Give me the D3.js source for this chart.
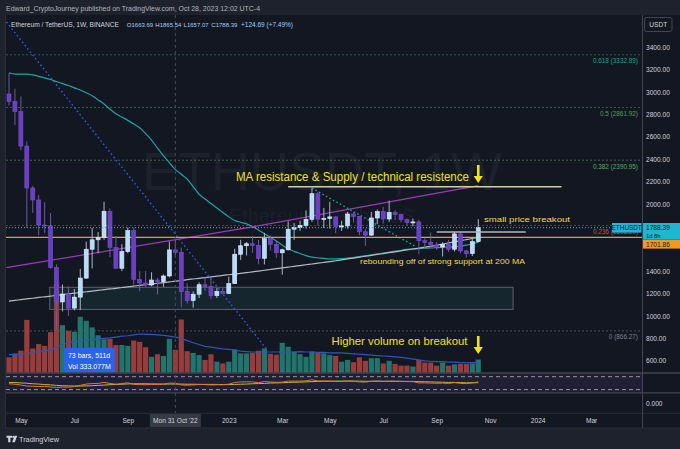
<!DOCTYPE html>
<html><head><meta charset="utf-8">
<script src="https://cdn.jsdelivr.net/npm/d3@7"></script>
<style>
html,body{margin:0;padding:0;background:#1e222d;}
svg{display:block;}
text{font-family:"Liberation Sans",Arial,sans-serif;}
</style></head><body>
<svg id="c" width="680" height="449"></svg>
<script>
// ---------------- DATA ----------------
const weeks = d3.utcMonday.range(new Date(Date.UTC(2022,3,18)), new Date(Date.UTC(2023,9,24)));
const opens = [2983,2916,2826,2517,2143,2036,1812,1805,1432,1125, 1196,1070,1168,1338,1596,1680,1700,1935,1613,1426,
 1575,1762,1327,1294,1276,1321,1306,1357,1590,1568, 1217,1137,1194,1279,1263,1181,1219,1200,1288,1551,
 1627,1645,1630,1515,1690,1640,1564,1591,1775,1790, 1808,1863,2092,1865,1870,1885,1800,1804,1911,1890,
 1752,1722,1875,1932,1866,1923,1905,1860,1835,1840, 1672,1657,1634,1616,1640,1596,1733,1581,1557,1663.69];
const highs = [3170,3030,2960,2560,2160,2080,2016,1920,1460,1280, 1262,1240,1420,1665,1785,1750,2020,1960,1714,1640,
 1790,1790,1400,1400,1390,1340,1370,1665,1680,1610, 1290,1220,1300,1345,1350,1250,1250,1350,1600,1680,
 1660,1715,1680,1742,1720,1680,1600,1845,1830,1850, 1943,2141,2110,1965,2020,1890,1850,1930,1925,1890,
 1780,1930,1950,1975,2030,1945,1915,1870,1870,1858, 1700,1745,1660,1660,1680,1750,1750,1590,1690,1865.54];
const lows = [2880,2705,2480,1790,1920,1720,1742,1420,880,1040, 1000,1050,1053,1330,1425,1560,1680,1525,1422,1400,
 1560,1280,1220,1260,1265,1190,1260,1345,1540,1075, 1110,1073,1160,1225,1150,1160,1190,1195,1285,1500,
 1540,1565,1460,1460,1585,1520,1368,1585,1680,1760, 1780,1840,1807,1785,1780,1740,1760,1780,1835,1720,
 1626,1715,1820,1825,1840,1855,1835,1808,1800,1550, 1600,1610,1590,1530,1570,1575,1560,1521,1535,1657.07];
const closes = [2916,2826,2517,2143,2036,1812,1805,1432,1125,1196, 1070,1168,1338,1596,1680,1700,1935,1613,1426,1575,
 1762,1327,1294,1276,1321,1306,1357,1590,1568,1217, 1137,1194,1279,1263,1181,1219,1200,1288,1551,1627,
 1645,1630,1515,1690,1640,1564,1591,1775,1790,1808, 1863,2092,1865,1870,1885,1800,1804,1911,1890,1752,
 1722,1875,1932,1866,1923,1905,1860,1835,1840,1672, 1657,1634,1616,1640,1596,1733,1581,1557,1664,1788.39];
const volumes = [3.5,4.4,5.0,12.0,5.5,6.5,6.1,9.2,20.2,10.8, 9.5,9.3,12.7,11.8,10.3,8.5,7.6,7.7,6.3,6.3,
 6.1,7.3,7.0,5.8,3.6,4.2,3.8,7.7,5.2,12.1, 4.9,4.5,4.0,2.9,4.2,2.5,2.1,2.5,5.3,4.4,
 4.4,4.5,5.0,5.5,4.3,4.1,6.8,5.9,4.8,4.2, 3.6,4.8,4.5,4.4,4.0,3.8,2.5,2.9,2.4,3.5,
 2.7,3.3,3.3,2.1,2.7,2.0,1.6,1.6,1.4,2.9, 2.3,2.3,1.6,2.3,1.6,1.9,2.0,2.0,2.1,3.0];
const volMA = [4.1,4.1,4.2,4.3,4.6,4.8,5.0,5.2,5.8,6.4, 6.8,7.0,7.2,7.4,7.5,7.7,7.8,7.9,8.1,8.3,
 8.4,8.6,8.8,8.7,8.7,8.6,8.5,8.3,8.1,7.8, 7.3,6.8,6.4,6.0,5.8,5.6,5.4,5.3,5.1,4.9,
 4.8,4.7,4.7,4.7,4.7,4.7,4.7,4.7,4.7,4.8, 4.7,4.7,4.6,4.6,4.5,4.5,4.5,4.4,4.3,4.2,
 4.1,4.0,3.9,3.8,3.7,3.6,3.5,3.3,3.1,2.9, 2.7,2.6,2.5,2.5,2.4,2.4,2.3,2.3,2.3,2.3];
const ma50 = [3173,3161,3161,3161,3153,3140,3127,3112,3094,3076, 3059,3038,3018,2994,2967,2930,2894,2846,2807,2777,
 2747,2715,2681,2629,2571,2500,2433,2369,2309,2266, 2222,2156,2087,2045,2005,1964,1925,1885,1853,1837,
 1822,1798,1767,1735,1703,1669,1634,1600,1577,1558, 1539,1525,1520,1514,1509,1510,1512,1517,1522,1530,
 1538,1546,1554,1562,1570,1579,1587,1594,1599,1602, 1605,1607,1610,1613,1615,1619,1625,1632,1645,1660];
const ma200 = [1133,1139,1146,1152,1158,1165,1171,1177,1184,1190, 1197,1203,1209,1216,1222,1228,1235,1241,1247,1254,
 1260,1266,1273,1279,1285,1292,1298,1304,1311,1317, 1324,1330,1336,1343,1349,1355,1362,1368,1374,1380,
 1387,1394,1401,1408,1415,1422,1429,1436,1443,1450, 1457,1464,1471,1478,1485,1493,1501,1509,1517,1525,
 1533,1541,1549,1557,1565,1573,1582,1590,1598,1606, 1614,1622,1632,1642,1652,1662,1672,1682,1692,1702];
const osc = [42,39,34,28,27,25,26,22,19,22, 21,25,32,40,43,44,50,44,39,43, 48,38,37,36,38,37,39,46,45,35,
 33,35,38,37,35,36,36,39,50,53, 54,53,49,55,53,51,52,58,58,58, 60,66,59,59,59,56,56,59,58,53,
 52,57,59,56,58,57,56,55,55,47, 47,46,45,46,44,49,44,43,47,53];
const oscSignal = [50,49,47,45,42,40,37,35,32,30, 29,28,28,29,30,32,34,36,38,39, 41,42,42,42,41,41,40,40,40,40,
 39,39,38,38,38,38,37,37,38,39, 40,42,43,44,46,47,48,50,51,52, 53,55,56,57,57,58,58,58,58,58,
 57,57,57,57,57,57,57,56,56,55, 54,53,52,51,50,50,49,48,48,48];
const priceTicks = [3400,3200,3000,2800,2600,2400,2200,2000,1800,1600,1400,1200,1000,800,600];
const timeTickDates = ["2022-05-02","2022-07-04","2022-09-05","2023-01-02","2023-03-06","2023-05-01","2023-07-03","2023-09-04","2023-11-06","2024-01-01","2024-03-04"];
const timeTickLabels = ["May","Jul","Sep","2023","Mar","May","Jul","Sep","Nov","2024","Mar"];
const fibRatios = ["0.618","0.5","0.382","0.236","0"];
const fibPrices = [3332.89,2861.92,2390.95,1808.20,866.27];
const fibColors = ["#2a9d92","#4f9f55","#5fa862","#e0413f","#7d808a"];
const supportPrice = 1701.86;
const lastPrice = 1788.39;
const purpleLine = [["2022-04-15",1431],["2023-01-30",1796],["2023-10-23",2165]];
const blueDotLine = [["2022-04-15",3626],["2023-02-17",690]];
const tealDotLine = [["2023-04-10",2141],["2023-08-11",1616]];
const resistLine = [["2023-03-13",2155],["2024-01-29",2155]];
const breakoutLine = [["2023-09-04",1750],["2023-12-18",1750]];
const supportBox = [["2022-06-05",1256],["2023-12-03",1058]];
const crossDate = "2022-10-31";

// ---------------- SETUP ----------------
const svg = d3.select("#c");
const P = s => new Date(s + "T00:00:00Z");
const X = d3.scaleUtc().domain([weeks[0], weeks[52]]).range([9, 9 + 5.94*52]);
const Y = d3.scaleLinear().domain([600, 3400]).range([360.7, 47.3]);
const V = d3.scaleLinear().domain([0, 20]).range([372.7, 372.7 - 88]);
const O = d3.scaleLinear().domain([10, 80]).range([389, 377.5]);
const L = 6, R = 642, T = 15, MB = 373;

svg.append("rect").attr("width",680).attr("height",449).attr("fill","#1e222d");
svg.append("rect").attr("x",L).attr("y",T).attr("width",680-L).attr("height",428-T).attr("fill","#131722");

const defs = svg.append("defs");
defs.append("clipPath").attr("id","mainClip").append("rect").attr("x",L).attr("y",T).attr("width",R-L).attr("height",MB-T);
defs.append("clipPath").attr("id","oscClip").append("rect").attr("x",L).attr("y",374).attr("width",R-L).attr("height",18);

const main = svg.append("g").attr("clip-path","url(#mainClip)");

// watermark
main.append("text").attr("x",322).attr("y",190).attr("text-anchor","middle")
  .attr("font-family","Lato, 'Liberation Sans', sans-serif").attr("font-size",54)
  .attr("fill","rgba(255,255,255,0.045)").text("ETHUSDT, 1W");
main.append("text").attr("x",322).attr("y",223).attr("text-anchor","middle")
  .attr("font-family","Lato, 'Liberation Sans', sans-serif").attr("font-size",20)
  .attr("fill","rgba(255,255,255,0.045)").text("Ethereum / TetherUS");

// fib levels
fibPrices.forEach((p,k)=>{
  main.append("line").attr("x1",L).attr("x2",R).attr("y1",Y(p)).attr("y2",Y(p))
    .attr("stroke",fibColors[k]).attr("stroke-opacity",0.55).attr("stroke-dasharray","2,2").attr("stroke-width",1);
  main.append("text").attr("x",638).attr("y",Y(p)+8.6).attr("text-anchor","end")
    .attr("font-size",6.4).attr("fill",fibColors[k]).text(`${fibRatios[k]} (${p.toFixed(2)})`);
});

// support box
main.append("rect").attr("x",X(P(supportBox[0][0]))).attr("y",Y(supportBox[0][1]))
  .attr("width",X(P(supportBox[1][0]))-X(P(supportBox[0][0])))
  .attr("height",Y(supportBox[1][1])-Y(supportBox[0][1]))
  .attr("fill","rgba(38,120,120,0.16)").attr("stroke","#5d606b").attr("stroke-width",1);

// volume
const up = i => closes[i] >= opens[i];
main.append("g").selectAll("rect").data(weeks).join("rect")
  .attr("x",(d)=>X(d)-2.6).attr("width",5.2)
  .attr("y",(d,i)=>V(volumes[i])).attr("height",(d,i)=>V(0)-V(volumes[i]))
  .attr("fill",(d,i)=>up(i)?"#21756c":"#973d3e");
main.append("path").datum(weeks).attr("fill","none").attr("stroke","#2f55b8").attr("stroke-width",1.2)
  .attr("d", d3.line().x(d=>X(d)).y((d,i)=>V(volMA[i])));

// moving averages
main.append("path").datum(weeks).attr("fill","none").attr("stroke","#1ea4a4").attr("stroke-width",1.2)
  .attr("d", d3.line().x(d=>X(d)).y((d,i)=>Y(ma50[i])).curve(d3.curveMonotoneX));
main.append("path").datum(weeks).attr("fill","none").attr("stroke","#b7b9bf").attr("stroke-width",1.2)
  .attr("d", d3.line().x(d=>X(d)).y((d,i)=>Y(ma200[i])).curve(d3.curveMonotoneX));
const segLine = d3.line().x(d=>X(P(d[0]))).y(d=>Y(d[1]));
main.append("path").datum(purpleLine).attr("fill","none").attr("stroke","#9a3cb8").attr("stroke-width",1.2)
  .attr("d", d3.line().x(d=>X(P(d[0]))).y(d=>Y(d[1])).curve(d3.curveMonotoneX));
main.append("path").datum(blueDotLine).attr("fill","none").attr("stroke","#2c5fe6").attr("stroke-width",1.4)
  .attr("stroke-dasharray","1.6,2.6").attr("d", segLine);
main.append("path").datum(tealDotLine).attr("fill","none").attr("stroke","#22a195").attr("stroke-width",1.4)
  .attr("stroke-dasharray","1.6,2.4").attr("d", segLine);

// orange support
main.append("line").attr("x1",L).attr("x2",R).attr("y1",Y(supportPrice)).attr("y2",Y(supportPrice))
  .attr("stroke","#f39a1c").attr("stroke-width",1.4);

// candles
const cg = main.append("g");
cg.selectAll("line").data(weeks).join("line")
  .attr("x1",d=>X(d)).attr("x2",d=>X(d))
  .attr("y1",(d,i)=>Y(highs[i])).attr("y2",(d,i)=>Y(lows[i]))
  .attr("stroke",(d,i)=>up(i)?"#a9b7c6":"#6d5a9c").attr("stroke-width",1);
cg.selectAll("rect").data(weeks).join("rect")
  .attr("x",d=>X(d)-2).attr("width",4)
  .attr("y",(d,i)=>Y(Math.max(opens[i],closes[i])))
  .attr("height",(d,i)=>Math.max(1,Math.abs(Y(opens[i])-Y(closes[i]))))
  .attr("fill",(d,i)=>up(i)?"#b6dbfb":"#6a3fc3")
  .attr("stroke",(d,i)=>up(i)?"#e3f1ff":"#7b4fd0").attr("stroke-width",0.6);

// annotations
main.append("path").datum(resistLine).attr("stroke","#d2cda6").attr("stroke-width",1.5).attr("d",segLine);
main.append("path").datum(breakoutLine).attr("stroke","#b9b8ad").attr("stroke-width",1.5).attr("d",segLine);
const ann = (x,y,s,size,len,color)=>main.append("text").attr("x",x).attr("y",y)
  .attr("font-family","Lato, 'Liberation Sans', sans-serif").attr("font-size",size)
  .attr("textLength",len).attr("lengthAdjust","spacingAndGlyphs").attr("fill",color).text(s);
ann(236,181,"MA resistance & Supply / technical resistence",12.5,233,"#f2e21e");
ann(331.5,345,"Higher volume on breakout",11.5,136,"#f2e21e");
ann(484,222,"small price breakout",7.8,86,"#efdc4c");
ann(360,263.5,"rebounding off of strong support at 200 MA",7.6,165,"#efdc4c");
const arrow = (x,y0,y1)=>main.append("path")
  .attr("d",`M${x-1.3},${y0} L${x+1.3},${y0} L${x+1.3},${y1-7} L${x+4.6},${y1-7} L${x},${y1} L${x-4.6},${y1-7} L${x-1.3},${y1-7} Z`)
  .attr("fill","#f5e31a");
arrow(X(weeks[79]),165,183);
arrow(X(weeks[79]),336,354);

// current price line
main.append("line").attr("x1",L).attr("x2",R).attr("y1",Y(lastPrice)).attr("y2",Y(lastPrice))
  .attr("stroke","#1fb6d2").attr("stroke-width",1).attr("stroke-dasharray","1,2");

// measurement label
svg.append("rect").attr("x",X(weeks[9])+1.5).attr("y",347.7).attr("width",51).attr("height",25).attr("rx",2).attr("fill","#2a62e8");
svg.append("text").attr("x",X(weeks[9])+5.5).attr("y",357.5).attr("font-size",7).attr("fill","#ffffff").text("73 bars, 511d");
svg.append("text").attr("x",X(weeks[9])+5.5).attr("y",368.5).attr("font-size",7).attr("fill","#ffffff").text("Vol 333.077M");

// oscillator pane
const og = svg.append("g").attr("clip-path","url(#oscClip)");
og.append("rect").attr("x",L).attr("y",374).attr("width",R-L).attr("height",18).attr("fill","rgba(126,87,194,0.13)");
[376.7,389.6].forEach(y=>og.append("line").attr("x1",L).attr("x2",R).attr("y1",y).attr("y2",y)
  .attr("stroke","#a3a6af").attr("stroke-dasharray","4,3").attr("stroke-width",0.9));
og.append("path").datum(weeks).attr("fill","none").attr("stroke","#c8b43a").attr("stroke-width",1)
  .attr("d", d3.line().x(d=>X(d)).y((d,i)=>O(oscSignal[i])));
og.append("path").datum(weeks).attr("fill","none").attr("stroke","#e0782a").attr("stroke-width",1)
  .attr("d", d3.line().x(d=>X(d)).y((d,i)=>O(osc[i])));

// crosshair vertical
svg.append("line").attr("x1",X(P(crossDate))).attr("x2",X(P(crossDate))).attr("y1",T).attr("y2",413)
  .attr("stroke","#4a4e5a").attr("stroke-width",1).attr("stroke-dasharray","3,3");

// separators
[373,392.8].forEach(y=>svg.append("line").attr("x1",L).attr("x2",680).attr("y1",y).attr("y2",y).attr("stroke","#434651").attr("stroke-width",1.3));
svg.append("line").attr("x1",L).attr("x2",680).attr("y1",413.3).attr("y2",413.3).attr("stroke","#2a2e39");
svg.append("line").attr("x1",L).attr("x2",680).attr("y1",428).attr("y2",428).attr("stroke","#2a2e39");
svg.append("line").attr("x1",R+0.5).attr("x2",R+0.5).attr("y1",T).attr("y2",428).attr("stroke","#434651");
svg.append("line").attr("x1",L-0.5).attr("x2",L-0.5).attr("y1",T).attr("y2",428).attr("stroke","#2a2e39");

// right axis (labels hidden behind the price tags are skipped, as in the reference)
const visibleTicks = priceTicks.filter(p => Math.abs(Y(p) - Y(lastPrice)) > 13 && Math.abs(Y(p) - Y(supportPrice)) > 13);
const ya = svg.append("g").attr("transform",`translate(${R},0)`)
  .call(d3.axisRight(Y).tickValues(visibleTicks).tickFormat(d=>d.toFixed(2)).tickSize(0).tickPadding(4));
ya.select(".domain").remove();
ya.selectAll("text").attr("fill","#d1d4dc").attr("font-size",6.6).attr("font-family","'Liberation Sans',Arial,sans-serif");
const Z = d3.scaleLinear().domain([-1,1]).range([413,393]);
const za = svg.append("g").attr("transform",`translate(${R},0)`)
  .call(d3.axisRight(Z).tickValues([0]).tickFormat(d=>d.toFixed(3)).tickSize(0).tickPadding(4));
za.select(".domain").remove();
za.selectAll("text").attr("fill","#d1d4dc").attr("font-size",6.6).attr("font-family","'Liberation Sans',Arial,sans-serif");

// time axis
const xa = svg.append("g").attr("transform","translate(0,413)")
  .call(d3.axisBottom(X).tickValues(timeTickDates.map(P)).tickFormat((d,i)=>timeTickLabels[i]).tickSize(0).tickPadding(5.5));
xa.select(".domain").remove();
xa.selectAll("text").attr("fill","#d1d4dc").attr("font-size",6.6).attr("font-family","'Liberation Sans',Arial,sans-serif");
const cx = X(P(crossDate));
svg.append("rect").attr("x",cx-25.5).attr("y",414).attr("width",51).attr("height",13).attr("fill","#363a45");
svg.append("text").attr("x",cx).attr("y",423).attr("text-anchor","middle").attr("font-size",6.6).attr("fill","#d1d4dc").text("Mon 31 Oct '22");

// price labels
svg.append("rect").attr("x",612).attr("y",223).attr("width",29.5).attr("height",9.6).attr("fill","#1fb6d2");
svg.append("text").attr("x",626.7).attr("y",230.4).attr("text-anchor","middle").attr("font-size",6.4).attr("fill","#131722").text("ETHUSDT");
svg.append("rect").attr("x",643).attr("y",223).attr("width",37).attr("height",16.5).attr("fill","#1fb6d2");
svg.append("text").attr("x",646).attr("y",230.4).attr("font-size",6.6).attr("fill","#131722").text(lastPrice.toFixed(2));
svg.append("text").attr("x",646).attr("y",237.6).attr("font-size",5.8).attr("fill","#131722").text("1d 8h");
svg.append("rect").attr("x",643).attr("y",239.6).attr("width",37).attr("height",9).attr("fill","#f39a1c");
svg.append("text").attr("x",646).attr("y",246.6).attr("font-size",6.6).attr("fill","#131722").text(supportPrice.toFixed(2));

// USDT button
svg.append("rect").attr("x",644.5).attr("y",17.5).attr("width",27.5).attr("height",14).attr("rx",2)
  .attr("fill","#131722").attr("stroke","#434651");
svg.append("text").attr("x",658.2).attr("y",27).attr("text-anchor","middle").attr("font-size",6.6).attr("fill","#d1d4dc").text("USDT");

// header
svg.append("text").attr("x",6).attr("y",10.5).attr("font-size",7).attr("textLength",254).attr("lengthAdjust","spacingAndGlyphs")
  .attr("fill","#b2b5be").text("Edward_CryptoJourney published on TradingView.com, Oct 28, 2023 12:02 UTC-4");
svg.append("text").attr("x",11).attr("y",27.3).attr("font-size",7).attr("textLength",108).attr("lengthAdjust","spacingAndGlyphs")
  .attr("fill","#d1d4dc").text("Ethereum / TetherUS, 1W, BINANCE");
const legend = [["O",opens[79].toFixed(2),126.8],["H",highs[79].toFixed(2),155.3],["L",lows[79].toFixed(2),183.6],["C",closes[79].toFixed(2),211.3]];
legend.forEach(([k,v,x])=>{
  const t = svg.append("text").attr("x",x).attr("y",27.3).attr("font-size",6.0);
  t.append("tspan").attr("fill","#d1d4dc").text(k);
  t.append("tspan").attr("fill","#9fd0ff").text(v);
});
svg.append("text").attr("x",241).attr("y",27.3).attr("font-size",6.5).attr("fill","#9fd0ff").text("+124.69 (+7.49%)");

// footer logo
const fg = svg.append("g").attr("fill","#d1d4dc");
fg.append("path").attr("d","M6.5,435.8 H12 V437.8 H10.4 V442.3 H8.2 V437.8 H6.5 Z");
fg.append("circle").attr("cx",13.4).attr("cy",436.9).attr("r",1.1);
fg.append("path").attr("d","M14.6,435.8 H17.2 L14.8,442.3 H12.2 Z");
fg.append("text").attr("x",19).attr("y",442).attr("font-size",8).attr("textLength",40).attr("lengthAdjust","spacingAndGlyphs").text("TradingView");
</script>
</body></html>
